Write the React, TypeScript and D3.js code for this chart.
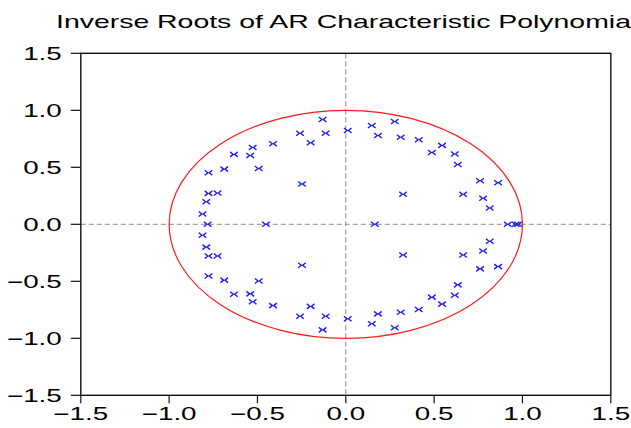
import React from "react";
import * as d3 from "d3";

const title = "Inverse Roots of AR Characteristic Polynomial";
const tickValues = [-1.5, -1.0, -0.5, 0.0, 0.5, 1.0, 1.5];

const rootRe = [
  -0.131, -0.131, -0.259, -0.259, -0.114, -0.114, 0.011, 0.011,
  -0.199, -0.199, -0.412, -0.412, -0.527, -0.527, -0.633, -0.633,
  -0.541, -0.541, -0.688, -0.688, -0.493, -0.493, -0.777, -0.777,
  -0.248, -0.248, -0.777, -0.777, -0.726, -0.726, -0.79, -0.79,
  -0.811, -0.811,
  0.147, 0.147, 0.277, 0.277, 0.182, 0.182, 0.311, 0.311,
  0.413, 0.413, 0.545, 0.545, 0.487, 0.487, 0.617, 0.617,
  0.634, 0.634, 0.76, 0.76, 0.862, 0.862, 0.324, 0.324,
  0.664, 0.664, 0.777, 0.777, 0.815, 0.815,
  -0.782, -0.452, 0.164, 0.917, 0.962, 0.975,
];
const rootIm = [
  0.919, -0.926, 0.799, -0.806, 0.799, -0.806, 0.823, -0.829,
  0.715, -0.72, 0.706, -0.713, 0.674, -0.68, 0.613, -0.613,
  0.604, -0.61, 0.484, -0.49, 0.49, -0.497, 0.452, -0.453,
  0.353, -0.359, 0.271, -0.278, 0.274, -0.278, 0.198, -0.2,
  0.09, -0.096,
  0.867, -0.873, 0.902, -0.908, 0.779, -0.786, 0.764, -0.771,
  0.741, -0.748, 0.692, -0.7, 0.63, -0.639, 0.616, -0.622,
  0.525, -0.531, 0.382, -0.391, 0.364, -0.371, 0.263, -0.269,
  0.263, -0.269, 0.228, -0.234, 0.143, -0.149,
  0, 0, 0, 0, 0, 0,
];

const W = 631;
const H = 428;
const SX = 1.545;
const FONT = "'Liberation Sans', Arial, sans-serif";

export default function App() {
  const x = d3.scaleLinear().domain([-1.5, 1.5]).range([80.8, 610.8]);
  const y = d3.scaleLinear().domain([-1.5, 1.5]).range([395.3, 53.3]);
  const fmt = d3.format(".1f");
  const x0 = x(-1.5), x1 = x(1.5), y0 = y(1.5), y1 = y(-1.5);

  return (
    <svg width={W} height={H} style={{ position: "absolute", left: 0, top: 0, background: "#fff" }}>
      <rect x={0} y={0} width={W} height={H} fill="#fff" />
      <text
        transform={`translate(56,28) scale(${SX},1)`}
        fontFamily={FONT}
        fontSize={18.4}
        fill="#000"
      >
        {title}
      </text>
      {/* zero lines */}
      <line x1={x0} x2={x1} y1={y(0)} y2={y(0)} stroke="#8c8c8c" strokeWidth={1} strokeDasharray="5,3" />
      <line x1={x(0)} x2={x(0)} y1={y0} y2={y1} stroke="#8c8c8c" strokeWidth={1} strokeDasharray="5,3" />
      {/* unit circle */}
      <ellipse
        cx={x(0)}
        cy={y(0)}
        rx={x(1) - x(0)}
        ry={y(0) - y(1)}
        fill="none"
        stroke="#ff1a1a"
        strokeWidth={1.2}
      />
      {/* roots */}
      {rootRe.map((re, i) => {
        const cx = x(re);
        const cy = y(rootIm[i]);
        return (
          <path
            key={i}
            d={`M${cx - 3.8},${cy - 2.5}L${cx - 0.7},${cy}L${cx - 3.8},${cy + 2.5}M${cx + 3.8},${cy - 2.5}L${cx + 0.7},${cy}L${cx + 3.8},${cy + 2.5}`}
            fill="none"
            stroke="#1a1aff"
            strokeWidth={1.4}
          />
        );
      })}
      {/* frame */}
      <rect x={x0} y={y0} width={x1 - x0} height={y1 - y0} fill="none" stroke="#111" strokeWidth={1.4} />
      {/* y axis ticks */}
      {tickValues.map((t) => (
        <g key={"y" + t}>
          <line x1={x0 - 10} x2={x0} y1={y(t)} y2={y(t)} stroke="#111" strokeWidth={1.2} />
          <text
            transform={`translate(${x0 - 19},${y(t) + 6.5}) scale(${SX},1)`}
            textAnchor="end"
            fontFamily={FONT}
            fontSize={18}
            fill="#000"
          >
            {fmt(t)}
          </text>
        </g>
      ))}
      {/* x axis ticks */}
      {tickValues.map((t) => (
        <g key={"x" + t}>
          <line x1={x(t)} x2={x(t)} y1={y1} y2={y1 + 8} stroke="#111" strokeWidth={1.2} />
          <text
            transform={`translate(${x(t)},${y1 + 25}) scale(${SX},1)`}
            textAnchor="middle"
            fontFamily={FONT}
            fontSize={18}
            fill="#000"
          >
            {fmt(t)}
          </text>
        </g>
      ))}
    </svg>
  );
}
